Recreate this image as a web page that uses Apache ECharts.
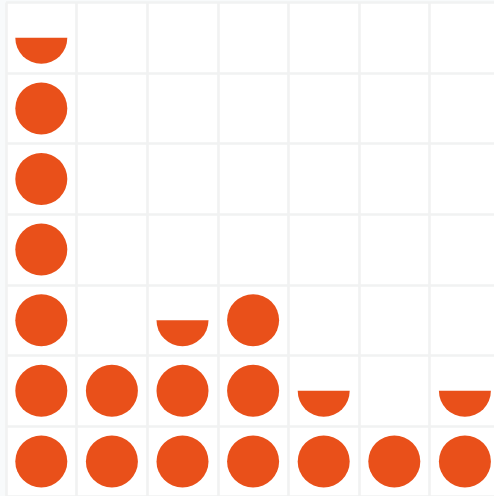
<!DOCTYPE html>
<html>
<head>
<meta charset="utf-8">
<script src="https://cdn.jsdelivr.net/npm/echarts@6/dist/echarts.min.js"></script>
<style>
html,body{margin:0;padding:0;background:#fff;}
#main{width:494px;height:496px;}
</style>
</head>
<body>
<div id="main"></div>
<script>
var categories = ['A', 'B', 'C', 'D', 'E', 'F', 'G'];
var values = [6.5, 2, 2.5, 3, 1.5, 1, 1.5];
var yMax = 7;

var chart = echarts.init(document.getElementById('main'), null, {renderer: 'canvas'});
chart.setOption({
  animation: false,
  backgroundColor: '#f8fafb',
  grid: {
    left: 6, top: 2.5, width: 494.2, height: 494.2,
    containLabel: false, outerBoundsMode: 'none',
    show: true, backgroundColor: '#fff', borderWidth: 0
  },
  xAxis: {
    type: 'category',
    data: categories,
    boundaryGap: true,
    axisLine: {show: false},
    axisTick: {show: false},
    axisLabel: {show: false},
    splitLine: {show: true, lineStyle: {color: '#f1f2f2', width: 2.6}}
  },
  yAxis: {
    type: 'value',
    min: 0,
    max: yMax,
    interval: 1,
    axisLine: {show: false},
    axisTick: {show: false},
    axisLabel: {show: false},
    splitLine: {show: true, lineStyle: {color: '#f1f2f2', width: 2.6}}
  },
  series: [{
    type: 'pictorialBar',
    data: values,
    symbol: 'circle',
    symbolSize: [52, 52],
    symbolRepeat: yMax,
    symbolMargin: '0!',
    symbolBoundingData: yMax,
    symbolClip: true,
    barCategoryGap: '0%',
    itemStyle: {color: '#e9501a'},
    z: 10
  }]
});
</script>
</body>
</html>
